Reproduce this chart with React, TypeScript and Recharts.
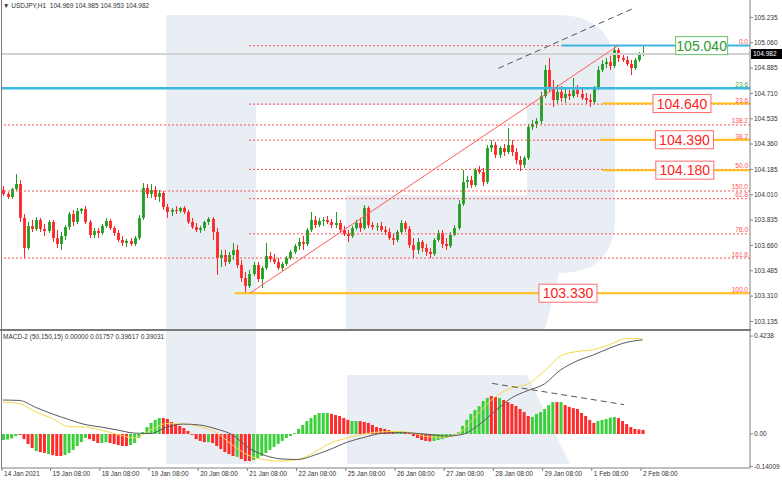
import {
  ComposedChart,
  Bar,
  Line,
  XAxis,
  YAxis,
  ReferenceLine,
  ReferenceDot,
  Cell,
} from "recharts";

const FONT = '"Liberation Sans", Arial, sans-serif';
const TXT = "#333333";
const GREEN = "#1f9d1f";
const RED = "#ff2424";
const FIB_RED = "#ff5050";
const ORANGE = "#ffbe1a";
const CYAN = "#3ab8e0";
const AXIS = "#808080";

// 2-hour bars, USDJPY 14 Jan 2021 -> 2 Feb 2021
const opens = [
  104.043, 104.015, 103.995, 104.050, 104.084, 103.850, 103.642, 103.794, 103.774, 103.836,
  103.774, 103.760, 103.822, 103.711, 103.670, 103.725, 103.787, 103.877, 103.822, 103.898,
  103.912, 103.822, 103.732, 103.760, 103.746, 103.794, 103.829, 103.780, 103.746, 103.698,
  103.677, 103.691, 103.670, 103.711, 103.850, 104.057, 104.015, 104.043, 103.995, 104.022,
  103.925, 103.891, 103.905, 103.898, 103.919, 103.891, 103.822, 103.787, 103.767, 103.780,
  103.822, 103.843, 103.753, 103.573, 103.594, 103.546, 103.594, 103.629, 103.525, 103.435,
  103.380, 103.463, 103.525, 103.428, 103.504, 103.587, 103.566, 103.546, 103.504, 103.532,
  103.573, 103.615, 103.656, 103.684, 103.670, 103.767, 103.836, 103.801, 103.829, 103.836,
  103.822, 103.801, 103.815, 103.767, 103.739, 103.725, 103.780, 103.815, 103.780, 103.919,
  103.801, 103.787, 103.794, 103.767, 103.753, 103.711, 103.698, 103.753, 103.815, 103.774,
  103.663, 103.629, 103.684, 103.642, 103.615, 103.601, 103.698, 103.746, 103.670, 103.656,
  103.732, 103.780, 103.946, 104.098, 104.112, 104.077, 104.181, 104.167, 104.098, 104.333,
  104.354, 104.285, 104.333, 104.305, 104.354, 104.305, 104.250, 104.216, 104.264, 104.478,
  104.499, 104.519, 104.692, 104.872, 104.747, 104.664, 104.720, 104.678, 104.706, 104.692,
  104.733, 104.706, 104.678, 104.664, 104.651, 104.747, 104.872, 104.913, 104.927, 104.899,
  105.010, 104.954, 104.941, 104.913, 104.885, 104.941, 104.975,
];
const highs = [
  104.070, 104.029, 104.057, 104.153, 104.112, 103.877, 103.822, 103.836, 103.856, 103.850,
  103.808, 103.836, 103.836, 103.767, 103.753, 103.801, 103.891, 103.905, 103.919, 103.919,
  103.932, 103.836, 103.780, 103.780, 103.808, 103.850, 103.843, 103.794, 103.767, 103.725,
  103.705, 103.711, 103.725, 103.870, 104.091, 104.084, 104.084, 104.070, 104.043, 104.036,
  103.946, 103.919, 103.932, 103.925, 103.932, 103.905, 103.850, 103.815, 103.794, 103.829,
  103.856, 103.856, 103.780, 103.629, 103.629, 103.615, 103.677, 103.663, 103.560, 103.477,
  103.491, 103.546, 103.546, 103.518, 103.677, 103.615, 103.601, 103.573, 103.546, 103.587,
  103.629, 103.670, 103.711, 103.725, 103.780, 103.891, 103.863, 103.850, 103.856, 103.863,
  103.843, 103.891, 103.836, 103.794, 103.767, 103.794, 103.836, 103.850, 103.939, 103.932,
  103.822, 103.815, 103.822, 103.794, 103.780, 103.739, 103.767, 103.836, 103.829, 103.794,
  103.711, 103.711, 103.698, 103.670, 103.642, 103.711, 103.767, 103.767, 103.711, 103.753,
  103.801, 103.974, 104.181, 104.140, 104.140, 104.195, 104.209, 104.195, 104.354, 104.388,
  104.374, 104.347, 104.361, 104.471, 104.388, 104.333, 104.278, 104.278, 104.499, 104.526,
  104.540, 104.720, 104.906, 104.954, 104.803, 104.768, 104.761, 104.747, 104.733, 104.816,
  104.768, 104.747, 104.713, 104.706, 104.761, 104.899, 104.941, 104.954, 104.968, 105.040,
  105.024, 104.975, 104.968, 104.941, 104.954, 104.996, 105.035,
];
const lows = [
  104.001, 103.981, 103.981, 104.036, 103.822, 103.573, 103.629, 103.753, 103.760, 103.753,
  103.725, 103.746, 103.684, 103.642, 103.629, 103.698, 103.767, 103.794, 103.808, 103.877,
  103.808, 103.711, 103.711, 103.711, 103.732, 103.780, 103.767, 103.725, 103.684, 103.656,
  103.649, 103.656, 103.656, 103.698, 103.836, 103.988, 103.988, 103.974, 103.960, 103.905,
  103.850, 103.863, 103.877, 103.884, 103.877, 103.808, 103.774, 103.753, 103.746, 103.760,
  103.801, 103.698, 103.456, 103.511, 103.518, 103.532, 103.560, 103.504, 103.408, 103.330,
  103.366, 103.449, 103.408, 103.366, 103.491, 103.546, 103.532, 103.491, 103.484, 103.518,
  103.560, 103.601, 103.629, 103.629, 103.656, 103.753, 103.780, 103.787, 103.794, 103.808,
  103.780, 103.780, 103.746, 103.725, 103.684, 103.711, 103.767, 103.753, 103.767, 103.780,
  103.767, 103.760, 103.753, 103.732, 103.698, 103.663, 103.684, 103.739, 103.753, 103.642,
  103.573, 103.601, 103.615, 103.587, 103.573, 103.587, 103.684, 103.642, 103.629, 103.642,
  103.725, 103.767, 103.932, 104.057, 104.057, 104.064, 104.153, 104.070, 104.084, 104.305,
  104.264, 104.264, 104.278, 104.291, 104.278, 104.222, 104.174, 104.195, 104.250, 104.457,
  104.471, 104.499, 104.678, 104.720, 104.616, 104.637, 104.651, 104.644, 104.664, 104.678,
  104.685, 104.664, 104.637, 104.616, 104.637, 104.733, 104.858, 104.885, 104.872, 104.885,
  104.927, 104.927, 104.899, 104.837, 104.872, 104.927, 104.968,
];
const closes = [
  104.015, 103.995, 104.050, 104.084, 103.850, 103.642, 103.794, 103.774, 103.836, 103.774,
  103.760, 103.822, 103.711, 103.670, 103.725, 103.787, 103.877, 103.822, 103.898, 103.912,
  103.822, 103.732, 103.760, 103.746, 103.794, 103.829, 103.780, 103.746, 103.698, 103.677,
  103.691, 103.670, 103.711, 103.850, 104.057, 104.015, 104.043, 103.995, 104.022, 103.925,
  103.891, 103.905, 103.898, 103.919, 103.891, 103.822, 103.787, 103.767, 103.780, 103.822,
  103.843, 103.753, 103.573, 103.594, 103.546, 103.594, 103.629, 103.525, 103.435, 103.380,
  103.463, 103.525, 103.428, 103.504, 103.587, 103.566, 103.546, 103.504, 103.532, 103.573,
  103.615, 103.656, 103.684, 103.670, 103.767, 103.836, 103.801, 103.829, 103.836, 103.822,
  103.801, 103.815, 103.767, 103.739, 103.725, 103.780, 103.815, 103.780, 103.919, 103.801,
  103.787, 103.794, 103.767, 103.753, 103.711, 103.698, 103.753, 103.815, 103.774, 103.663,
  103.629, 103.684, 103.642, 103.615, 103.601, 103.698, 103.746, 103.670, 103.656, 103.732,
  103.780, 103.946, 104.098, 104.112, 104.077, 104.181, 104.167, 104.098, 104.333, 104.354,
  104.285, 104.333, 104.305, 104.354, 104.305, 104.250, 104.216, 104.264, 104.478, 104.499,
  104.519, 104.692, 104.872, 104.747, 104.664, 104.720, 104.678, 104.706, 104.692, 104.733,
  104.706, 104.678, 104.664, 104.651, 104.747, 104.872, 104.913, 104.927, 104.899, 105.010,
  104.954, 104.941, 104.913, 104.885, 104.941, 104.975, 104.982,
];

// MACD-2 (50,150,15) histogram, one value per bar, g = rising, r = falling
const macdHist = [
  -0.026, -0.024, -0.019, -0.009, -0.004, -0.022, -0.043, -0.061, -0.074, -0.078,
  -0.082, -0.087, -0.091, -0.095, -0.095, -0.091, -0.082, -0.069, -0.052, -0.035,
  -0.017, -0.022, -0.03, -0.039, -0.039, -0.035, -0.039, -0.043, -0.048, -0.052,
  -0.052, -0.048, -0.039, -0.017, 0.009, 0.03, 0.048, 0.061, 0.069, 0.069,
  0.065, 0.052, 0.043, 0.035, 0.026, 0.013, -0.004, -0.022, -0.03, -0.035,
  -0.035, -0.039, -0.052, -0.065, -0.078, -0.087, -0.095, -0.099, -0.108, -0.117,
  -0.117, -0.112, -0.104, -0.095, -0.082, -0.069, -0.056, -0.043, -0.03, -0.017,
  -0.009, 0.004, 0.022, 0.039, 0.056, 0.069, 0.082, 0.091, 0.091, 0.091,
  0.087, 0.082, 0.078, 0.069, 0.061, 0.056, 0.056, 0.056, 0.052, 0.048,
  0.039, 0.03, 0.026, 0.022, 0.017, 0.013, 0.013, 0.013, 0.009, 0.004,
  -0.009, -0.017, -0.026, -0.03, -0.032, -0.03, -0.026, -0.022, -0.017, -0.013,
  -0.004, 0.009, 0.035, 0.061, 0.087, 0.104, 0.121, 0.143, 0.156, 0.164,
  0.16, 0.156, 0.147, 0.138, 0.13, 0.121, 0.108, 0.095, 0.078, 0.074,
  0.087, 0.095, 0.108, 0.125, 0.138, 0.138, 0.138, 0.125, 0.117, 0.112,
  0.108, 0.091, 0.078, 0.061, 0.048, 0.056, 0.061, 0.065, 0.071, 0.074,
  0.069, 0.056, 0.043, 0.03, 0.022, 0.02, 0.018,
];
const histColors = (
  "ggggrrrrgrrgrrrggggggrrrggrrrrrggggggggrrrrrrrrrrrgrrrrrrgrrr" +
  "ggggggggggggggggggg" + "rrrrrggrrrrrrrrrggrrrrrrr" +
  "ggggggggggggggrrgrrrrrrrggggggrgrrrrrrrrgggggrrrrrrr"
).split("");

// MACD lines, sampled every 4th bar
const lineBars = [
  0, 4, 8, 12, 16, 20, 24, 28, 32, 36, 40, 44, 48, 52, 56, 60, 64, 68, 72, 76,
  80, 84, 88, 92, 96, 100, 104, 108, 112, 116, 120, 124, 128, 132, 136, 140, 144, 148, 152, 156,
];
const macdGray = [
  0.147, 0.145, 0.115, 0.087, 0.063, 0.041, 0.03, 0.017, 0.004, 0.002,
  0.03, 0.043, 0.039, 0.022, -0.004, -0.061, -0.093, -0.108, -0.11, -0.091,
  -0.065, -0.035, -0.015, 0.002, 0.006, 0.004, -0.002, -0.009, -0.002, 0.039,
  0.099, 0.156, 0.188, 0.216, 0.277, 0.316, 0.342, 0.372, 0.396, 0.407,
];
const macdYellow = [
  0.138, 0.132, 0.095, 0.067, 0.032, 0.03, 0.017, -0.002, -0.017, 0.017,
  0.045, 0.043, 0.032, 0.006, -0.048, -0.093, -0.112, -0.117, -0.11, -0.078,
  -0.039, -0.017, 0.0, 0.009, 0.011, 0.004, -0.013, -0.013, 0.015, 0.091,
  0.16, 0.199, 0.216, 0.272, 0.337, 0.357, 0.365, 0.387, 0.413, 0.411,
];

// axis ticks
const priceTicks = [105.235, 105.06, 104.885, 104.71, 104.535, 104.36, 104.185, 104.01, 103.835, 103.66, 103.485, 103.31, 103.135];
const macdTicks = [0.4238, 0, -0.14009];
const macdTickText = ["0.4238", "0.00", "-0.14009"];
const dayTickPos = [-0.24, 11.6, 23.6, 35.6, 47.6, 59.6, 71.6, 83.6, 95.6, 107.6, 119.6, 131.6, 143.6, 155.6];
const dayTickText = [
  "14 Jan 2021", "15 Jan 08:00", "18 Jan 08:00", "19 Jan 08:00", "20 Jan 08:00", "21 Jan 08:00",
  "22 Jan 08:00", "25 Jan 08:00", "26 Jan 08:00", "27 Jan 08:00", "28 Jan 08:00", "29 Jan 08:00",
  "1 Feb 08:00", "2 Feb 08:00",
];

// fibonacci grids
const fibALevels = [105.04, 104.636, 104.387, 104.185, 103.983, 103.74, 103.33];
const fibALabels = ["0.0", "23.6", "38.2", "50.0", "61.8", "76.0", "100.0"];
const fibBLevels = [104.492, 104.036, 103.573];
const fibBLabels = ["138.2", "150.0", "161.8"];
const targetPrices = [105.04, 104.64, 104.39, 104.18, 103.33];
const targetBarPos = [170.4, 165.6, 166.2, 166.3, 137.8];
const lastPrice = 104.982;
const cyanLevel = 104.745;

const X_MIN = -0.244;
const X_MAX = 182.196;
const P_MIN = 103.076;
const P_MAX = 105.355;

const candles = closes.map((c, i) => ({
  i,
  open: opens[i],
  high: highs[i],
  low: lows[i],
  close: c,
  range: [lows[i], highs[i]],
}));

const macdRows = macdHist.map((h, i) => {
  const k = lineBars.indexOf(i);
  return {
    i,
    hist: h,
    gray: k >= 0 ? macdGray[k] : null,
    yellow: k >= 0 ? macdYellow[k] : null,
  };
});

function Candle(props: any) {
  const { x, y, width, height, payload } = props;
  if (!payload || height == null) return null;
  const { open, close, high, low } = payload;
  const span = high - low || 1e-6;
  const k = height / span;
  const top = y + (high - Math.max(open, close)) * k;
  const bot = y + (high - Math.min(open, close)) * k;
  const cx = Math.round(x + width / 2) + 0.5;
  const color = close >= open ? GREEN : RED;
  return (
    <g>
      <line x1={cx} x2={cx} y1={y} y2={y + height} stroke={color} strokeWidth={1} />
      <rect x={cx - 1.4} y={top} width={2.8} height={Math.max(bot - top, 1)} fill={color} />
    </g>
  );
}

function PriceTick(props: any) {
  const { x, y, payload } = props;
  return (
    <text x={x} y={y} dy={2.3} fontSize={6.5} fill={TXT} fontFamily={FONT}>
      {Number(payload.value).toFixed(3)}
    </text>
  );
}

function MacdTick(props: any) {
  const { x, y, payload } = props;
  const idx = macdTicks.indexOf(payload.value);
  return (
    <text x={x} y={y} dy={2.3} fontSize={6.5} fill={TXT} fontFamily={FONT}>
      {idx >= 0 ? macdTickText[idx] : ""}
    </text>
  );
}

function DayTick(props: any) {
  const { x, y, payload } = props;
  const idx = dayTickPos.indexOf(payload.value);
  return (
    <g>
      <line x1={x} x2={x} y1={y} y2={y + 3} stroke={AXIS} />
      <text x={x + 2} y={y + 7.5} fontSize={6.5} fill={TXT} fontFamily={FONT}>
        {idx >= 0 ? dayTickText[idx] : ""}
      </text>
    </g>
  );
}

function fibText(label: string, color: string) {
  return (p: any) => (
    <text
      x={p.cx - 2}
      y={p.cy - 1.5}
      textAnchor="end"
      fontSize={6.5}
      fill={color}
      fontFamily={FONT}
    >
      {label}
    </text>
  );
}

function targetBox(label: string, color: string, border: string, w: number) {
  return (p: any) => (
    <g>
      <rect x={p.cx - w / 2} y={p.cy - 9} width={w} height={18} fill="#ffffff" stroke={border} strokeWidth={1} />
      <text
        x={p.cx}
        y={p.cy + 5}
        textAnchor="middle"
        fontSize={14}
        fill={color}
        fontFamily={FONT}
      >
        {label}
      </text>
    </g>
  );
}

function lastPriceTag(p: any) {
  return (
    <g>
      <rect x={p.cx + 1} y={p.cy - 5} width={31} height={10} fill="#000000" />
      <text x={p.cx + 3} y={p.cy + 2.4} fontSize={6.5} fill="#ffffff" fontFamily={FONT}>
        {lastPrice.toFixed(3)}
      </text>
    </g>
  );
}

function Watermark() {
  const c = "#e9edf4";
  return (
    <svg width={782} height={480} style={{ position: "absolute", left: 0, top: 0 }}>
      {/* price window part */}
      <path d="M166,15 H557 Q615,15 615,73 V217 Q615,273 559,273 L545,329 H166 Z" fill={c} />
      <rect x={256} y={105} width={271} height={90} fill="#ffffff" />
      <rect x={256} y={195} width={90} height={134} fill="#ffffff" />
      {/* indicator window part */}
      <rect x={166} y={331} width={90} height={133} fill={c} />
      <path d="M347,375 H527 L570,464 H347 Z" fill={c} />
    </svg>
  );
}

export default function App() {
  const fibAStart = 60;
  return (
    <div style={{ position: "absolute", left: 0, top: 0, width: 782, height: 480, background: "#ffffff", overflow: "hidden" }}>
      <Watermark />

      {/* price window */}
      <div style={{ position: "absolute", left: 0, top: 0 }}>
        <ComposedChart width={782} height={330} data={candles} margin={{ top: 0, right: 0, bottom: 0, left: 2 }}>
          <XAxis type="number" dataKey="i" domain={[X_MIN, X_MAX]} allowDataOverflow hide />
          <YAxis
            orientation="right"
            domain={[P_MIN, P_MAX]}
            allowDataOverflow
            ticks={priceTicks}
            interval={0}
            width={32}
            tickSize={3}
            tickMargin={1}
            axisLine={{ stroke: AXIS }}
            tickLine={{ stroke: AXIS }}
            tick={<PriceTick />}
          />
          <ReferenceLine y={lastPrice} stroke="#d2d2d2" strokeWidth={2} />
          <ReferenceLine y={cyanLevel} stroke={CYAN} strokeWidth={2.5} />
          {fibBLevels.map((v) => (
            <ReferenceLine key={"fb" + v} y={v} stroke={FIB_RED} strokeDasharray="2 2" />
          ))}
          {fibALevels.map((v) => (
            <ReferenceLine
              key={"fa" + v}
              segment={[{ x: fibAStart, y: v }, { x: X_MAX, y: v }]}
              stroke={FIB_RED}
              strokeDasharray="2 2"
            />
          ))}
          <ReferenceLine segment={[{ x: 136.3, y: 105.04 }, { x: X_MAX, y: 105.04 }]} stroke={CYAN} strokeWidth={2} />
          <ReferenceLine segment={[{ x: 146.3, y: 104.64 }, { x: X_MAX, y: 104.64 }]} stroke={ORANGE} strokeWidth={2} />
          <ReferenceLine segment={[{ x: 145.6, y: 104.39 }, { x: X_MAX, y: 104.39 }]} stroke={ORANGE} strokeWidth={2} />
          <ReferenceLine segment={[{ x: 146.3, y: 104.18 }, { x: X_MAX, y: 104.18 }]} stroke={ORANGE} strokeWidth={2} />
          <ReferenceLine segment={[{ x: 56.6, y: 103.33 }, { x: X_MAX, y: 103.33 }]} stroke={ORANGE} strokeWidth={2} />
          <ReferenceLine segment={[{ x: 60.2, y: 103.33 }, { x: 150.0, y: 105.04 }]} stroke="#ff5a5a" strokeWidth={1} />
          <ReferenceLine segment={[{ x: 120.8, y: 104.883 }, { x: 153.4, y: 105.293 }]} stroke="#555555" strokeDasharray="6 4" />

          <Bar dataKey="range" barSize={3} shape={<Candle />} isAnimationActive={false} />

          {fibALevels.map((v, k) => (
            <ReferenceDot key={"fal" + k} x={X_MAX} y={v} ifOverflow="visible" shape={fibText(fibALabels[k], FIB_RED)} />
          ))}
          {fibBLevels.map((v, k) => (
            <ReferenceDot key={"fbl" + k} x={X_MAX} y={v} ifOverflow="visible" shape={fibText(fibBLabels[k], FIB_RED)} />
          ))}
          <ReferenceDot x={X_MAX} y={cyanLevel} ifOverflow="visible" shape={fibText("23.6", "#3aa83a")} />

          <ReferenceDot x={targetBarPos[0]} y={targetPrices[0]} ifOverflow="visible"
            shape={targetBox("105.040", "#2e9a2e", "#6cc06c", 52)} />
          {[1, 2, 3, 4].map((k) => (
            <ReferenceDot key={"tb" + k} x={targetBarPos[k]} y={targetPrices[k]} ifOverflow="visible"
              shape={targetBox(targetPrices[k].toFixed(3), "#ff2222", "#ff6a6a", 58)} />
          ))}
          <ReferenceDot x={X_MAX} y={lastPrice} ifOverflow="visible" shape={lastPriceTag} />
        </ComposedChart>
      </div>

      {/* window separator and frame */}
      <div style={{ position: "absolute", left: 0, top: 329, width: 751, height: 2, background: "#7a7a7a" }} />
      <div style={{ position: "absolute", left: 1, top: 0, width: 1, height: 469, background: "#7a7a7a" }} />

      {/* MACD window */}
      <div style={{ position: "absolute", left: 0, top: 330 }}>
        <ComposedChart width={782} height={150} data={macdRows} margin={{ top: 1, right: 0, bottom: 0, left: 2 }}>
          <XAxis
            type="number"
            dataKey="i"
            domain={[X_MIN, X_MAX]}
            allowDataOverflow
            ticks={dayTickPos}
            interval={0}
            height={12}
            tickSize={0}
            tickMargin={0}
            axisLine={{ stroke: AXIS }}
            tickLine={false}
            tick={<DayTick />}
          />
          <YAxis
            orientation="right"
            domain={[-0.147, 0.4455]}
            allowDataOverflow
            ticks={macdTicks}
            interval={0}
            width={32}
            tickSize={3}
            tickMargin={1}
            axisLine={{ stroke: AXIS }}
            tickLine={{ stroke: AXIS }}
            tick={<MacdTick />}
          />
          <Bar dataKey="hist" barSize={3} isAnimationActive={false}>
            {macdRows.map((r, k) => (
              <Cell key={"h" + k} fill={histColors[k] === "g" ? "#3ccf3c" : "#ff2a2a"} />
            ))}
          </Bar>
          <Line type="monotone" dataKey="yellow" stroke="#f7d84a" strokeWidth={1} dot={false} connectNulls isAnimationActive={false} />
          <Line type="monotone" dataKey="gray" stroke="#5a5a5a" strokeWidth={1} dot={false} connectNulls isAnimationActive={false} />
          <ReferenceLine segment={[{ x: 119.3, y: 0.219 }, { x: 151.5, y: 0.127 }]} stroke="#555555" strokeDasharray="6 4" />
        </ComposedChart>
      </div>

      {/* window captions */}
      <div style={{ position: "absolute", left: 3, top: 2, fontFamily: FONT, fontSize: 6.5, color: TXT, whiteSpace: "pre" }}>
        {"\u25BC USDJPY,H1  104.969 104.985 104.953 104.982"}
      </div>
      <div style={{ position: "absolute", left: 3, top: 333, fontFamily: FONT, fontSize: 6.5, color: TXT, whiteSpace: "pre" }}>
        {"MACD-2 (50,150,15) 0.00000 0.01757 0.39617 0.39031"}
      </div>
    </div>
  );
}
